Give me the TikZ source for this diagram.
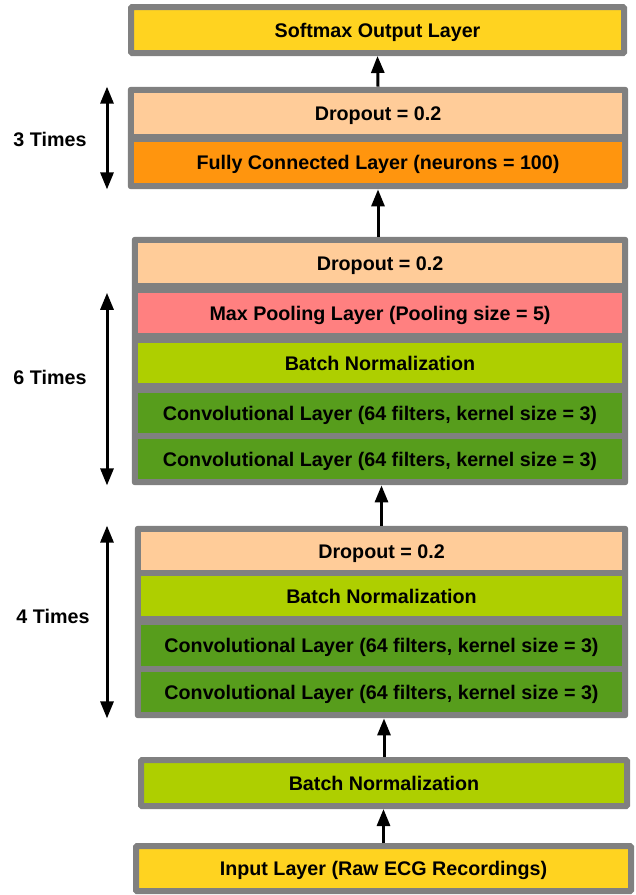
\documentclass[tikz,border=0pt]{standalone}
\usepackage{fontspec}
\setmainfont{Liberation Sans}
\usetikzlibrary{arrows.meta,positioning,fit,backgrounds}

\definecolor{outyellow}{HTML}{FFD320}
\definecolor{droppeach}{HTML}{FFCC99}
\definecolor{fcorange}{HTML}{FF950E}
\definecolor{poolpink}{HTML}{FF8080}
\definecolor{bnlime}{HTML}{AECF00}
\definecolor{convgreen}{HTML}{579D1C}
\definecolor{framegray}{HTML}{808080}

\begin{document}
\begin{tikzpicture}[x=1pt,y=-1pt,
    every node/.style={font=\fontsize{19.7}{23}\selectfont\bfseries, text height=14.1pt, text depth=0pt},
    layer/.style={inner sep=0pt, minimum width=#1},
    box/.style={draw=framegray, line width=6pt, rounded corners=1pt, inner sep=0pt},
    frame/.style={fill=framegray, rounded corners=3pt, inner sep=6pt},
    flow/.style={-{Triangle[length=17pt,width=13pt]}, line width=3pt},
    span/.style={{Triangle[length=17pt,width=13pt]}-{Triangle[length=17pt,width=13pt]}, line width=3pt}]
    \useasboundingbox (0,0) rectangle (636,895);

    % output
    \node[box, fill=outyellow, minimum width=493pt, minimum height=46pt] (out) at (377.5,30) {Softmax Output Layer};

    % dense block
    \node[layer=488pt, minimum height=41pt, fill=droppeach] (g1d) at (378,113.5) {Dropout = 0.2};
    \node[layer=488pt, minimum height=41pt, fill=fcorange] (g1f) at (378,162.5) {Fully Connected Layer (neurons = 100)};

    % conv block with pooling
    \node[layer=484pt, minimum height=40pt, fill=droppeach] (g2d) at (380,263) {Dropout = 0.2};
    \node[layer=484pt, minimum height=40pt, fill=poolpink] (g2p) at (380,313) {Max Pooling Layer (Pooling size = 5)};
    \node[layer=484pt, minimum height=40pt, fill=bnlime] (g2b) at (380,363) {Batch Normalization};
    \node[layer=484pt, minimum height=40pt, fill=convgreen] (g2c) at (380,413) {Convolutional Layer (64 filters, kernel size = 3)};
    \node[layer=484pt, minimum height=40pt, fill=convgreen] (g2e) at (380,459) {Convolutional Layer (64 filters, kernel size = 3)};

    % first conv block
    \node[layer=481pt, minimum height=38pt, fill=droppeach] (g3d) at (381.5,551) {Dropout = 0.2};
    \node[layer=481pt, minimum height=40pt, fill=bnlime] (g3b) at (381.5,596) {Batch Normalization};
    \node[layer=481pt, minimum height=41pt, fill=convgreen] (g3c) at (381.5,645.5) {Convolutional Layer (64 filters, kernel size = 3)};
    \node[layer=481pt, minimum height=40pt, fill=convgreen] (g3e) at (381.5,692) {Convolutional Layer (64 filters, kernel size = 3)};

    % input side
    \node[box, fill=bnlime, minimum width=486pt, minimum height=46pt] (bn) at (384,783) {Batch Normalization};
    \node[box, fill=outyellow, minimum width=495pt, minimum height=45pt] (in) at (383.5,868.5) {Input Layer (Raw ECG Recordings)};

    \begin{scope}[on background layer]
    \node[frame, fit=(g1d)(g1f)] (g1) {};
    \node[frame, fit=(g2d)(g2e)] (g2) {};
    \node[frame, fit=(g3d)(g3e)] (g3) {};
    \end{scope}

    \draw[flow] (in.north) -- (in.north |- bn.south);
    \draw[flow] (bn.north) -- (bn.north |- g3.south);
    \draw[flow] (g3.north) -- (g3.north |- g2.south);
    \draw[flow] (g1.south |- g2.north) -- (g1.south);
    \draw[flow] (g1.north) -- (out.south);

    % repeat markers
    \coordinate (lx) at (107,0);
    \foreach \top/\bot in {g1/g1, g2p/g2, g3/g3}
    \draw[span] (\top.north -| lx) -- (\bot.south -| lx);
    \node (t3) at (50,139) {3 Times};
    \node (t6) at (50,377) {6 Times};
    \node (t4) at (53,616) {4 Times};

\end{tikzpicture}
\end{document}
